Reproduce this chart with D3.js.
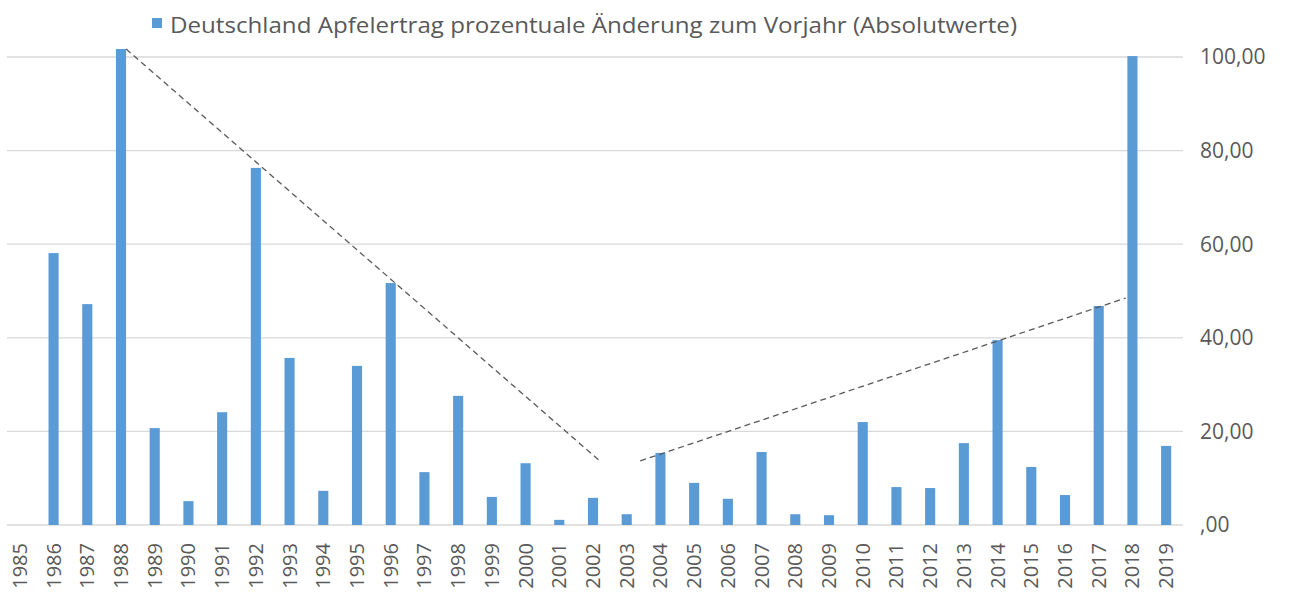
<html>
<script src="https://d3js.org/d3.v7.min.js"></script>
<style> body {margin:0; background:#fff;} text {font-family: "Open Sans", sans-serif; fill:#595959;} </style>
<body>
<svg width=1293 height=597></svg>
<script>
// data
const years = d3.range(1985, 2020);
const values = [0, 58.1, 47.2, 101.7, 20.7, 5.1, 24.1, 76.3, 35.7, 7.3,
                34.0, 51.7, 11.3, 27.6, 6.0, 13.2, 1.1, 5.8, 2.3, 15.4,
                9.0, 5.6, 15.6, 2.3, 2.1, 22.0, 8.1, 7.9, 17.5, 39.5,
                12.4, 6.4, 46.8, 100.2, 16.9];
const yTicks = [0, 20, 40, 60, 80, 100];
const trendDown = [[1988.15, 101.7], [2002.2, 13.7]];
const trendUp = [[2003.4, 13.7], [2017.8, 48.5]];
const seriesName = "Deutschland Apfelertrag prozentuale Änderung zum Vorjahr (Absolutwerte)";

var plotLeft = 3, plotRight = 1183, plotTop = 57, plotBottom = 525;
var svg = d3.select("svg");

var x = d3.scaleBand().domain(years).range([plotLeft, plotRight])
    .paddingInner(0.7).paddingOuter(0.35);
var xc = d3.scaleLinear().domain([1985, 2019])
    .range([x(1985) + x.bandwidth()/2, x(2019) + x.bandwidth()/2]);
var y = d3.scaleLinear().domain([0, 100]).range([plotBottom, plotTop]);

var fmt = d => d === 0 ? ",00" : d3.format(".2f")(d).replace(".", ",");

//gridlines
svg.append("g")
  .selectAll("line")
  .data(yTicks)
  .enter()
  .append("line")
  .attr("x1", 7).attr("x2", plotRight)
  .attr("y1", d => y(d)).attr("y2", d => y(d))
  .attr("stroke", "#d9d9d9").attr("stroke-width", 1.3);

//y labels on the right
svg.append("g")
  .selectAll("text")
  .data(yTicks)
  .enter()
  .append("text")
  .text(fmt)
  .attr("x", 1200)
  .attr("y", d => y(d))
  .attr("dy", "0.35em")
  .style("font-size", "21px");

//bars
svg.append("g")
  .selectAll("rect")
  .data(values)
  .enter()
  .append("rect")
  .attr("x", (d, i) => x(years[i]))
  .attr("width", x.bandwidth())
  .attr("y", d => y(d))
  .attr("height", d => plotBottom - y(d))
  .attr("fill", "#5b9bd5");

//x labels
svg.append("g")
  .selectAll("text")
  .data(years)
  .enter()
  .append("text")
  .text(d => d)
  .attr("transform", d => "translate(" + (x(d) + x.bandwidth()/2) + ",543) rotate(-90)")
  .attr("text-anchor", "end")
  .attr("dy", "0.35em")
  .style("font-size", "20px");

//trend lines
var line = d3.line().x(d => xc(d[0])).y(d => y(d[1]));
[trendDown, trendUp].forEach(t => {
  svg.append("path")
    .attr("d", line(t))
    .attr("fill", "none")
    .attr("stroke", "#595959")
    .attr("stroke-width", 1.3)
    .attr("stroke-dasharray", "6,4");
});

//legend
svg.append("rect")
  .attr("x", 152).attr("y", 18)
  .attr("width", 10).attr("height", 10)
  .attr("fill", "#5b9bd5");
svg.append("text")
  .text(seriesName)
  .attr("x", 170).attr("y", 33)
  .attr("textLength", 847)
  .attr("lengthAdjust", "spacingAndGlyphs")
  .style("font-size", "21px");
</script>
</body>
</html>
